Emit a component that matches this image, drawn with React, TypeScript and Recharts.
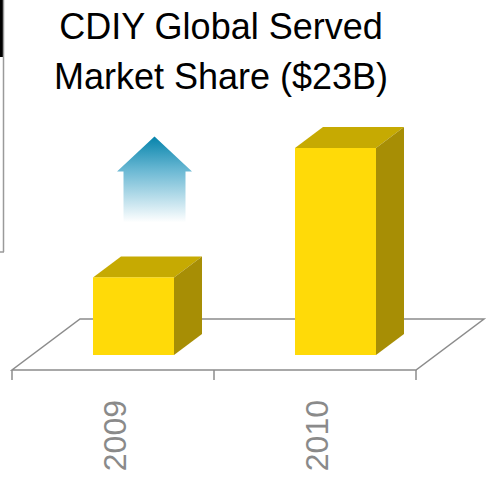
import { BarChart, Bar, XAxis, YAxis, ReferenceLine } from "recharts";

/* ---------- DATA ---------- */

const years = ["2009", "2010"];
const share = [3.0, 8.0];
const titleLines = ["CDIY Global Served", "Market Share ($23B)"];

const data = years.map((year, i) => ({ year, share: share[i] }));

/* ---------- 3D GEOMETRY ---------- */

const DX = 28;
const DY = -21;
const FONT = '"Liberation Sans", Arial, sans-serif';

function GrowthArrow({ cx, top }: any) {
  const headY = top + 35;
  const bottom = top + 86;
  const pts = [
    [cx, top],
    [cx + 37.5, headY],
    [cx + 31, headY],
    [cx + 31, bottom],
    [cx - 31, bottom],
    [cx - 31, headY],
    [cx - 37.5, headY]
  ]
    .map((p) => p.join(","))
    .join(" ");

  return (
    <g>
      <defs>
        <linearGradient id="arrowGrad" x1="0" y1="0" x2="0" y2="1">
          <stop offset="0%" stopColor="#0583ab" />
          <stop offset="40%" stopColor="#6cb9d4" />
          <stop offset="100%" stopColor="#ffffff" />
        </linearGradient>
      </defs>
      <polygon points={pts} fill="url(#arrowGrad)" />
    </g>
  );
}

function Bar3D(props: any) {
  const { x, y, width, height, index } = props;
  const r = x + width;
  const b = y + height;

  return (
    <g>
      {index === 0 && <GrowthArrow cx={x + width / 2 + 21} top={y - 141} />}
      <polygon
        points={`${x},${y} ${x + DX},${y + DY} ${r + DX},${y + DY} ${r},${y}`}
        fill="#c6aa02"
      />
      <polygon
        points={`${r},${y} ${r + DX},${y + DY} ${r + DX},${b + DY} ${r},${b}`}
        fill="#a78e05"
      />
      <rect x={x} y={y} width={width} height={height} fill="#ffda08" />
    </g>
  );
}

/* ---------- FLOOR ---------- */

function Floor(props: any) {
  const left = Math.min(props.x1, props.x2);
  const right = Math.max(props.x1, props.x2);
  const y = props.y1;

  const fy = y + 15;
  const by = y - 36;
  const fl = left - 20;
  const fr = right - 20;
  const bl = left + 48;
  const br = right + 48;

  const n = years.length;
  const step = (fr - fl) / n;
  const ticks = Array.from({ length: n + 1 }, (_, i) => fl + i * step);

  return (
    <g>
      <polygon
        points={`${fl},${fy} ${fr},${fy} ${br},${by} ${bl},${by}`}
        fill="#ffffff"
        stroke="#8c8c8c"
        strokeWidth={1.5}
      />
      {ticks.map((tx, i) => (
        <line
          key={i}
          x1={tx}
          y1={fy}
          x2={tx}
          y2={fy + 10}
          stroke="#8c8c8c"
          strokeWidth={1.5}
        />
      ))}
    </g>
  );
}

/* ---------- TICK ---------- */

function YearTick({ x, y, payload }: any) {
  return (
    <g transform={`translate(${x - 7},${y + 45}) rotate(-90)`}>
      <text
        x={0}
        y={0}
        textAnchor="end"
        fill="#8a8a8a"
        fontSize={32}
        fontFamily={FONT}
      >
        {payload.value}
      </text>
    </g>
  );
}

/* ---------- MAIN ---------- */

export default function App() {
  return (
    <div
      style={{
        position: "absolute",
        left: 0,
        top: 0,
        width: 491,
        height: 484,
        background: "#ffffff"
      }}
    >
      <BarChart
        width={491}
        height={484}
        data={data}
        margin={{ top: 148, right: 55, left: 32, bottom: 0 }}
      >
        <XAxis
          dataKey="year"
          height={129}
          axisLine={false}
          tickLine={false}
          tickSize={0}
          tickMargin={0}
          interval={0}
          tick={<YearTick />}
        />
        <YAxis hide domain={[0, 8]} />

        <ReferenceLine y={0} shape={<Floor />} zIndex={-100} />

        <Bar
          dataKey="share"
          barSize={81}
          shape={<Bar3D />}
          isAnimationActive={false}
        />
      </BarChart>

      <svg
        width={491}
        height={484}
        style={{ position: "absolute", left: 0, top: 0, pointerEvents: "none" }}
      >
        {/* cropped neighbour frame */}
        <rect x={0} y={0} width={3} height={57} fill="#000000" />
        <line x1={3.5} y1={0} x2={3.5} y2={252} stroke="#9a9a9a" strokeWidth={1.5} />
        <line x1={0} y1={252} x2={4} y2={252} stroke="#9a9a9a" strokeWidth={1.5} />

        {titleLines.map((t, i) => (
          <text
            key={i}
            x={221}
            y={39 + i * 50}
            textAnchor="middle"
            fontSize={36}
            fontFamily={FONT}
            fill="#000000"
          >
            {t}
          </text>
        ))}
      </svg>
    </div>
  );
}
